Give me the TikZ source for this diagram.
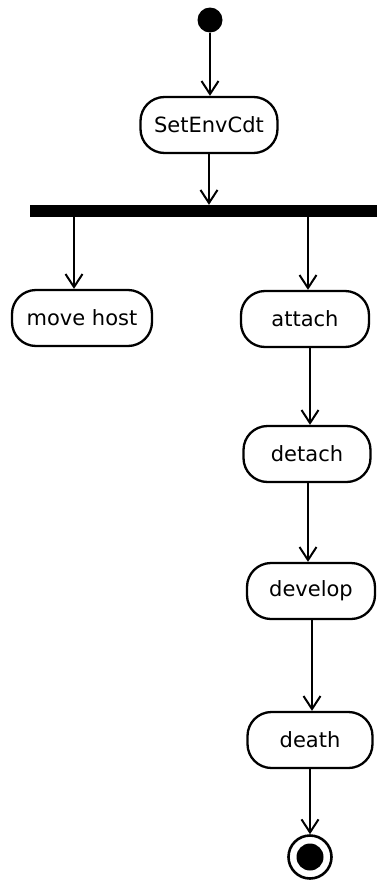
\documentclass[tikz,border=0pt]{standalone}
\usepackage{fontspec}
\setmainfont{DejaVu Sans}
\usetikzlibrary{arrows.meta}
\begin{document}
\begin{tikzpicture}[x=1pt,y=-1pt,
  act/.style={draw, line width=2.3pt, rounded corners=24pt, minimum height=56pt,
    inner sep=0pt, font=\fontsize{21}{24}\selectfont, fill=white},
  arr/.style={line width=2.2pt, -{Straight Barb[length=13pt,width=17pt,line width=2pt]}}]
\useasboundingbox (0,0) rectangle (377,881);
\node[circle, fill=black, minimum size=25pt, inner sep=0pt] (init) at (210,20) {};
\node[act, minimum width=137pt] (set) at (209,125) {SetEnvCdt};
\node[fill=black, minimum width=347pt, minimum height=12pt, inner sep=0pt] (bar) at (203.5,211) {};
\node[act, minimum width=140pt] (mh) at (82,318) {move host};
\node[act, minimum width=128pt] (att) at (305,319) {attach};
\node[act, minimum width=127pt] (det) at (307,454) {detach};
\node[act, minimum width=128pt] (dev) at (311,591) {develop};
\node[act, minimum width=125pt] (dea) at (310,740) {death};
\node[circle, draw, line width=2.6pt, minimum size=43pt, inner sep=0pt] (fin) at (310,857) {};
\node[circle, fill=black, minimum size=27pt, inner sep=0pt] at (fin) {};
\draw[arr] (init) -- (init |- set.north);
\draw[arr] (set) -- (set |- bar.north);
\coordinate (f1) at (74,217);
\coordinate (f2) at (308,217);
\draw[arr] (f1) -- (f1 |- mh.north);
\draw[arr] (f2) -- (f2 |- att.north);
\coordinate (c1) at (310,347);
\draw[arr] (c1) -- (c1 |- det.north);
\coordinate (c2) at (308,483);
\draw[arr] (c2) -- (c2 |- dev.north);
\coordinate (c3) at (312,620);
\draw[arr] (c3) -- (c3 |- dea.north);
\draw[arr] (dea.south -| fin) -- (fin.north);
\end{tikzpicture}
\end{document}
